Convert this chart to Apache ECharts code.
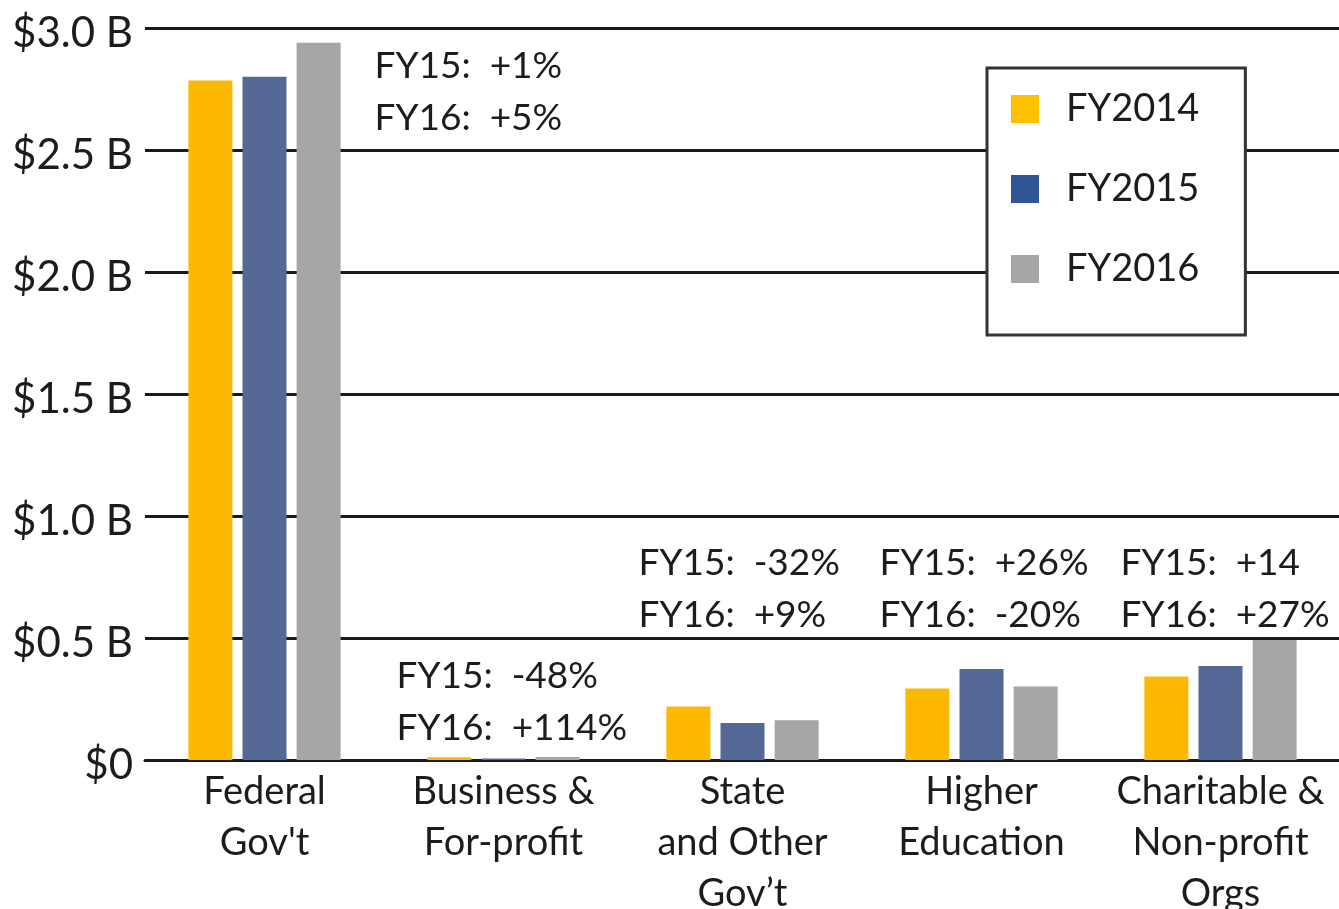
<!DOCTYPE html>
<html>
<head>
<meta charset="utf-8">
<script src="https://cdn.jsdelivr.net/npm/echarts@6/dist/echarts.min.js"></script>
<style>
html,body{margin:0;padding:0;background:#fff;}
#chart{width:1339px;height:909px;}
</style>
</head>
<body>
<div id="chart"></div>
<script>
// ---- data ----
const categories = ['Federal\nGov\'t', 'Business &\nFor-profit', 'State\nand Other\nGov\u2019t', 'Higher\nEducation', 'Charitable &\nNon-profit\nOrgs'];
const seriesNames = ['FY2014', 'FY2015', 'FY2016'];
const fy2014 = [2.785, 0.011, 0.219, 0.293, 0.342];
const fy2015 = [2.800, 0.006, 0.152, 0.373, 0.385];
const fy2016 = [2.940, 0.012, 0.163, 0.301, 0.492];
const fy15Change = ['+1%', '-48%', '-32%', '+26%', '+14'];
const fy16Change = ['+5%', '+114%', '+9%', '-20%', '+27%'];
const yTickLabels = ['$0', '$0.5 B', '$1.0 B', '$1.5 B', '$2.0 B', '$2.5 B', '$3.0 B'];

const FONT = 'Lato';
const TXT = '#1c1c1c';
const barColors = ['#FDB900', '#536895', '#A6A6A6'];
const legendColors = ['#FFC000', '#2F5597', '#A6A6A6'];

const chart = echarts.init(document.getElementById('chart'), null, {renderer: 'canvas'});

const seriesData = [fy2014, fy2015, fy2016];
const option = {
  animation: false,
  backgroundColor: '#fff',
  textStyle: {fontFamily: FONT, color: TXT},
  grid: {left: 145, right: -1, top: 28, bottom: 149, containLabel: false, outerBoundsMode: 'none'},
  legend: {
    orient: 'vertical',
    left: 987, top: 68,
    padding: [22, 46, 47, 24],
    itemWidth: 28, itemHeight: 28, itemGap: 42,
    backgroundColor: '#fff',
    borderColor: '#333', borderWidth: 3,
    icon: 'rect',
    textStyle: {fontFamily: FONT, fontSize: 38, color: TXT, padding: [0, 0, 0, 22]},
    data: seriesNames.map((n, i) => ({name: n, itemStyle: {color: legendColors[i]}}))
  },
  xAxis: {
    type: 'category',
    data: categories,
    axisLine: {show: true, lineStyle: {color: '#1a1a1a', width: 3}},
    axisTick: {show: false},
    axisLabel: {fontFamily: FONT, fontSize: 38, color: TXT, lineHeight: 51, margin: 6, interval: 0}
  },
  yAxis: {
    type: 'value',
    min: 0, max: 3.0, interval: 0.5,
    axisLine: {show: false},
    axisTick: {show: false},
    splitLine: {lineStyle: {color: '#1a1a1a', width: 3}},
    axisLabel: {
      fontFamily: FONT, fontSize: 42, color: TXT, margin: 12,
      verticalAlign: 'top', lineHeight: 10,
      formatter: (v) => yTickLabels[Math.round(v / 0.5)]
    }
  },
  series: seriesNames.map((n, i) => ({
    name: n,
    type: 'bar',
    data: seriesData[i],
    barWidth: 44,
    barGap: '23%',
    itemStyle: {color: barColors[i]},
    z: 3
  }))
};
chart.setOption(option);

// annotation placement (x offset from category centre in px, top of text block in axis units)
const annoPlacement = [
  {dx: 110, yTop: 2.952},
  {dx: -107, yTop: 0.451},
  {dx: -104, yTop: 0.914},
  {dx: -102, yTop: 0.914},
  {dx: -100, yTop: 0.914}
];
const graphics = categories.map((c, i) => {
  const px = chart.convertToPixel({xAxisIndex: 0}, i);
  const py = chart.convertToPixel({yAxisIndex: 0}, annoPlacement[i].yTop);
  return {
    type: 'text',
    x: px + annoPlacement[i].dx,
    y: py,
    z: 10,
    style: {
      text: 'FY15:  ' + fy15Change[i] + '\nFY16:  ' + fy16Change[i],
      font: '37px ' + FONT,
      fill: TXT,
      lineHeight: 52,
      align: 'left',
      verticalAlign: 'top'
    }
  };
});
chart.setOption({graphic: graphics});
</script>
</body>
</html>
